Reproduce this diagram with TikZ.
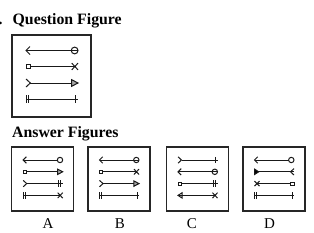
\documentclass[tikz,border=0pt]{standalone}
\usepackage{fontspec}
\setmainfont{Liberation Serif}
\newcommand\defsym[3]{\expandafter\def\csname symofs#1\endcsname{#2}\tikzset{pics/#1/.style={code={#3}}}}
% left-end symbols
\defsym{ltip}{0}{\draw (3.2,-3.2)--(0,0)--(3.2,3.2);}
\defsym{ltail}{3.5}{\draw (0,-3.2)--(3.5,0)--(0,3.2);}
\defsym{lsq}{3.2}{\draw (0,-1.6) rectangle (3.2,1.6);}
\defsym{lbartwo}{0}{\draw (0,-3.2)--(0,3.2) (2.2,-3.2)--(2.2,3.2);}
\defsym{lcross}{2.5}{\draw (0,-2.5)--(5,2.5) (0,2.5)--(5,-2.5);}
\defsym{ltriR}{0}{\draw[fill=black] (0,-2.7)--(4.2,0)--(0,2.7)--cycle;}
\defsym{ltriL}{0}{\draw (0,0)--(4.2,-2.7)--(4.2,2.7)--cycle;}
% right-end symbols
\defsym{rtheta}{0}{\draw (-2.7,0) circle[radius=2.7];}
\defsym{rcirc}{5.4}{\draw (-2.7,0) circle[radius=2.7];}
\defsym{rcross}{2.5}{\draw (-5,-2.7)--(0,2.7) (-5,2.7)--(0,-2.7);}
\defsym{rtri}{0}{\draw[fill=black!35] (-5.2,-2.7)--(0,0)--(-5.2,2.7)--cycle;}
\defsym{rbar}{0}{\draw (-2,-3.2)--(-2,3.2);}
\defsym{rbartwo}{0}{\draw (-4.4,-3.2)--(-4.4,3.2) (-2.2,-3.2)--(-2.2,3.2);}
\defsym{rchev}{0}{\draw (0,-3.2)--(-3.5,0)--(0,3.2);}
\defsym{rsq}{3.2}{\draw (-3.2,-1.6) rectangle (0,1.6);}
% one row: x1, x2, y, left, right, scale
\newcommand\srow[6]{%
  \draw[rowline] ({#1+#6*\csname symofs#4\endcsname},#3) -- ({#2-#6*\csname symofs#5\endcsname},#3);
  \pic[rowline,scale=#6] at (#1,#3) {#4};
  \pic[rowline,scale=#6] at (#2,#3) {#5};}
% answer box: left x, four rows as {L}{R} pairs
\newcommand\abox[9]{%
  \draw[boxline] (#1,147) rectangle ++(62,64);
  \srow{#1+11.5}{#1+51}{160}{#2}{#3}{1}
  \srow{#1+11.5}{#1+51}{171.8}{#4}{#5}{1}
  \srow{#1+11.5}{#1+51}{183.6}{#6}{#7}{1}
  \srow{#1+11.5}{#1+51}{195.4}{#8}{#9}{1}}
\begin{document}
\begin{tikzpicture}[x=1pt,y=-1pt,
  rowline/.style={line width=1pt,black!90},
  boxline/.style={line width=1.2pt,black!85},
  title/.style={font=\fontsize{15.8}{19}\selectfont\bfseries,anchor=base west,inner sep=0pt},
  lab/.style={font=\fontsize{15}{17}\selectfont,anchor=base,inner sep=0pt}]
\useasboundingbox (0,0) rectangle (314,233);
\node[title] (dot) at (-1.5,24.5) {.};
\node[title] (qt) at (12.5,24.5) {Question Figure};
\draw[boxline] (12,35) rectangle (91,117);
\srow{26}{78}{50.5}{ltip}{rtheta}{1.25}
\srow{26}{78}{66.5}{lsq}{rcross}{1.25}
\srow{26}{78}{83}{ltail}{rtri}{1.25}
\srow{26}{78}{99}{lbartwo}{rbar}{1.25}
\node[title] (at) at (12,137) {Answer Figures};
\abox{11.7}{ltip}{rcirc}{lsq}{rtri}{ltail}{rbartwo}{lbartwo}{rcross}
\abox{88}{ltip}{rtheta}{lsq}{rcross}{ltail}{rtri}{lbartwo}{rbar}
\abox{166.5}{ltail}{rbar}{ltip}{rtheta}{lsq}{rbartwo}{ltriL}{rcross}
\abox{243}{ltip}{rcirc}{ltriR}{rchev}{lcross}{rsq}{lbartwo}{rbar}
\node[lab] (la) at (48,228) {A};
\node[lab] (lb) at (120,228) {B};
\node[lab] (lc) at (192,228) {C};
\node[lab] (ld) at (269.5,228) {D};
\end{tikzpicture}
\end{document}
